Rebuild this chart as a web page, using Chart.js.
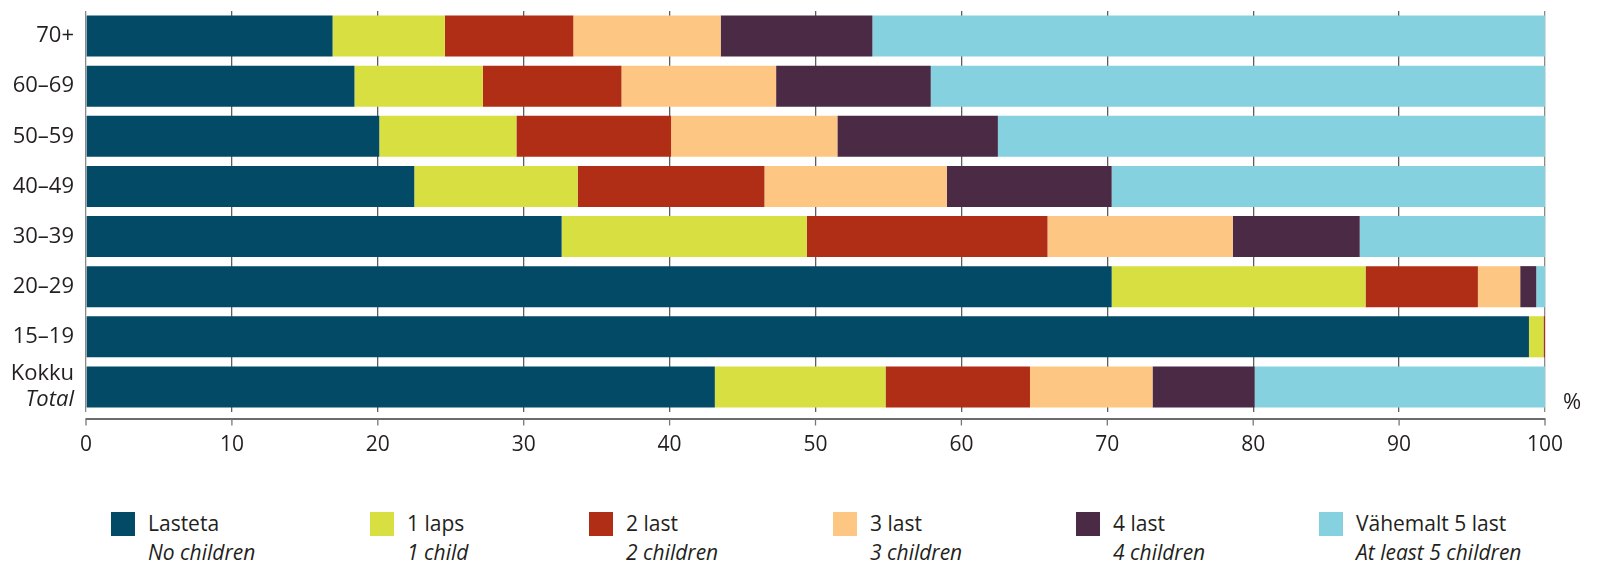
<!DOCTYPE html>
<html>
<head>
<meta charset="utf-8">
<script src="https://cdn.jsdelivr.net/npm/chart.js@4.4.1/dist/chart.umd.min.js"></script>
<style>
  body { margin: 0; background: #fff; }
  #wrap { position: relative; width: 1599px; height: 565px; }
  #chart { position: absolute; left: 0; top: 0; }
  .item { position: absolute; top: 509px; font-family: 'Open Sans', sans-serif; font-size: 21px; line-height: 29px; color: #231f20; }
  .item .sw { position: absolute; left: 0; top: 3px; width: 24px; height: 24px; }
  .item .txt { position: absolute; left: 37px; top: 0; white-space: nowrap; }
  .item .en { font-style: italic; }
</style>
</head>
<body>
<div id="wrap">
  <canvas id="chart" width="1599" height="470"></canvas>
  <div id="legend"></div>
</div>
<script>
// age groups, top to bottom
var categories = ['70+', '60–69', '50–59', '40–49', '30–39', '20–29', '15–19', 'Kokku'];
var categoriesEn = ['', '', '', '', '', '', '', 'Total'];

// share of women, %
var lasteta   = [16.9, 18.4, 20.1, 22.5, 32.6, 70.3, 98.9, 43.1];
var laps1     = [7.7, 8.8, 9.4, 11.2, 16.8, 17.4, 1.0, 11.7];
var last2     = [8.8, 9.5, 10.6, 12.8, 16.5, 7.7, 0.1, 9.9];
var last3     = [10.1, 10.6, 11.4, 12.5, 12.7, 2.9, 0, 8.4];
var last4     = [10.4, 10.6, 11.0, 11.3, 8.7, 1.1, 0, 7.0];
var last5plus = [46.1, 42.1, 37.5, 29.7, 12.7, 0.6, 0, 19.9];

var seriesNames = ['Lasteta', '1 laps', '2 last', '3 last', '4 last', 'Vähemalt 5 last'];
var seriesNamesEn = ['No children', '1 child', '2 children', '3 children', '4 children', 'At least 5 children'];
var xTicks = [0, 10, 20, 30, 40, 50, 60, 70, 80, 90, 100];

var seriesColors = ['#034a66', '#d7e040', '#b02d16', '#fdc683', '#4b2a45', '#85d1e0'];
var legendLeft = [111, 370, 589, 833, 1076, 1319];

var textColor = '#231f20';
var fontFamily = "'Open Sans', sans-serif";

var seriesData = [lasteta, laps1, last2, last3, last4, last5plus];

// axis line, tick marks, y labels and the % sign
var extrasPlugin = {
    id: 'extras',
    afterDraw: function (chart) {
        var ctx = chart.ctx;
        var xs = chart.scales.x;
        var ys = chart.scales.y;
        var area = chart.chartArea;
        var axisY = area.bottom + 7;

        ctx.save();
        ctx.strokeStyle = '#3a3a3a';
        ctx.lineWidth = 1.5;
        ctx.beginPath();
        ctx.moveTo(xs.getPixelForValue(0) - 0.5, axisY);
        ctx.lineTo(xs.getPixelForValue(100) + 0.5, axisY);
        ctx.stroke();

        ctx.strokeStyle = '#777';
        ctx.lineWidth = 1.3;
        xTicks.forEach(function (v) {
            var x = xs.getPixelForValue(v);
            ctx.beginPath();
            ctx.moveTo(x, axisY);
            ctx.lineTo(x, axisY + 6.5);
            ctx.stroke();
        });

        ctx.fillStyle = textColor;
        ctx.textAlign = 'right';
        ctx.textBaseline = 'middle';
        categories.forEach(function (c, i) {
            var y = ys.getPixelForValue(i);
            if (categoriesEn[i]) {
                ctx.font = '22px ' + fontFamily;
                ctx.fillText(c, 74, y - 13.5);
                ctx.font = 'italic 22px ' + fontFamily;
                ctx.fillText(categoriesEn[i], 74, y + 13);
            } else {
                ctx.font = '22px ' + fontFamily;
                ctx.fillText(c, 74, y);
            }
        });

        ctx.textAlign = 'center';
        ctx.font = '22px ' + fontFamily;
        ctx.fillText('%', 1572, 403);
        ctx.restore();
    }
};

var ctx = document.getElementById('chart').getContext('2d');
new Chart(ctx, {
    type: 'bar',
    data: {
        labels: categories,
        datasets: seriesNames.map(function (name, i) {
            return {
                label: name,
                data: seriesData[i],
                backgroundColor: seriesColors[i],
                borderWidth: 0,
                barPercentage: 0.82,
                categoryPercentage: 1
            };
        })
    },
    options: {
        indexAxis: 'y',
        responsive: false,
        devicePixelRatio: 1,
        animation: false,
        layout: { padding: { left: 86, right: 54, top: 11, bottom: 0 } },
        plugins: {
            legend: { display: false },
            tooltip: { enabled: false }
        },
        scales: {
            x: {
                stacked: true,
                min: 0,
                max: 100,
                afterFit: function (scale) { scale.height = 58; },
                afterBuildTicks: function (scale) {
                    scale.ticks = xTicks.map(function (v) { return { value: v }; });
                },
                grid: {
                    drawTicks: false,
                    lineWidth: 1.3,
                    color: function (c) {
                        return (c.tick && (c.tick.value === 0 || c.tick.value === 100)) ? '#8a8a8a' : '#5e5e5e';
                    }
                },
                border: { display: false },
                ticks: {
                    padding: 20,
                    color: textColor,
                    font: { family: fontFamily, size: 21 },
                    maxRotation: 0
                }
            },
            y: {
                stacked: true,
                display: false
            }
        }
    },
    plugins: [extrasPlugin]
});

// legend: Estonian name over the English one
var legend = document.getElementById('legend');
seriesNames.forEach(function (name, i) {
    var item = document.createElement('div');
    item.className = 'item';
    item.style.left = legendLeft[i] + 'px';
    item.innerHTML = '<div class="sw" style="background:' + seriesColors[i] + '"></div>' +
        '<div class="txt"><div>' + name + '</div><div class="en">' + seriesNamesEn[i] + '</div></div>';
    legend.appendChild(item);
});
</script>
</body>
</html>
